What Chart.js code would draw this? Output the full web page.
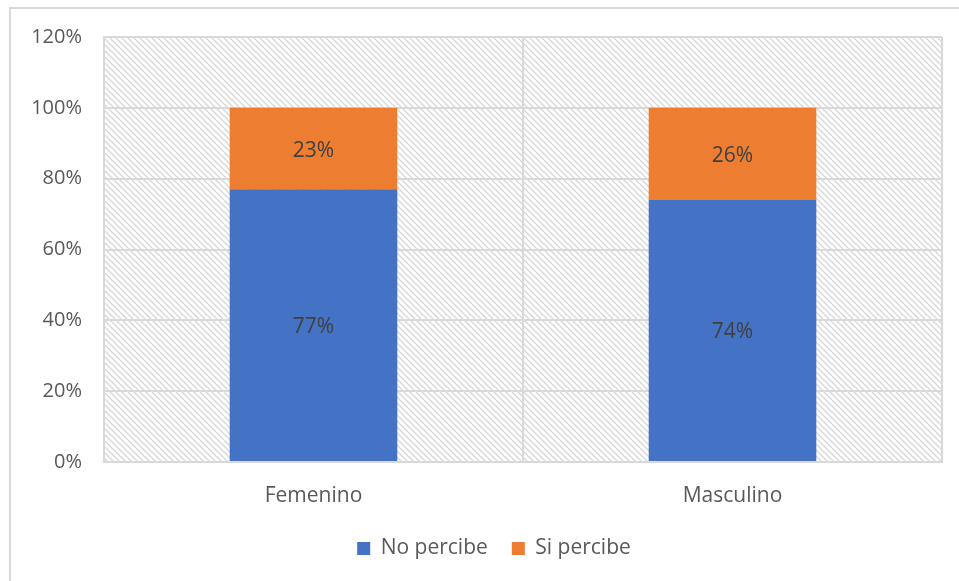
<!DOCTYPE html>
<html lang="es">
<head>
<meta charset="utf-8">
<title>Percepción por sexo</title>
<script src="https://cdn.jsdelivr.net/npm/chart.js@4"></script>
<style>
  html, body { margin: 0; padding: 0; background: #fff; overflow: hidden; }
  #wrap { position: relative; width: 959px; height: 581px; }
  #frame {
    position: absolute; left: 9px; top: 7px; width: 1000px; height: 700px;
    border: 2px solid #d9d9d9; box-sizing: border-box;
  }
  canvas { position: absolute; left: 0; top: 0; }
</style>
</head>
<body>
<div id="wrap">
  <div id="frame"></div>
  <canvas id="chart" width="959" height="581"></canvas>
</div>
<script>
const categorias = ["Femenino", "Masculino"];
const noPercibe = [77, 74];
const siPercibe = [23, 26];
const yTicks = [0, 20, 40, 60, 80, 100, 120];

const textColor = "#595959";
const gridColor = "#d9d9d9";
const fontFamily = "'Open Sans', 'Noto Sans', sans-serif";

// diagonal hatch for the plot background
function hatchPattern(ctx) {
  const size = 6;
  const tile = document.createElement("canvas");
  tile.width = size;
  tile.height = size;
  const t = tile.getContext("2d");
  t.strokeStyle = "#d6d6d6";
  t.lineWidth = 1.3;
  t.beginPath();
  t.moveTo(-1, -1);
  t.lineTo(size + 1, size + 1);
  t.moveTo(-1, size - 1);
  t.lineTo(1, size + 1);
  t.moveTo(size - 1, -1);
  t.lineTo(size + 1, 1);
  t.stroke();
  return ctx.createPattern(tile, "repeat");
}

const plotBackground = {
  id: "plotBackground",
  beforeDraw(chart) {
    const { ctx, chartArea: a } = chart;
    ctx.save();
    ctx.fillStyle = hatchPattern(ctx);
    ctx.fillRect(a.left, a.top, a.right - a.left, a.bottom - a.top);
    ctx.restore();
  }
};

// center the legend under the plot area rather than the whole canvas
const legendShift = {
  id: "legendShift",
  afterLayout(chart) {
    const dx = 23;
    chart.legend.left += dx;
    chart.legend.right += dx;
  }
};

// percentage written in the middle of each segment
const segmentLabels = {
  id: "segmentLabels",
  afterDatasetsDraw(chart) {
    const { ctx } = chart;
    ctx.save();
    ctx.font = "21px " + fontFamily;
    ctx.fillStyle = "#404040";
    ctx.textAlign = "center";
    ctx.textBaseline = "middle";
    chart.data.datasets.forEach((ds, i) => {
      chart.getDatasetMeta(i).data.forEach((bar, j) => {
        const p = bar.getCenterPoint();
        ctx.fillText(ds.data[j] + "%", p.x, p.y + 2);
      });
    });
    ctx.restore();
  }
};

new Chart(document.getElementById("chart").getContext("2d"), {
  type: "bar",
  data: {
    labels: categorias,
    datasets: [
      {
        label: "No percibe",
        data: noPercibe,
        backgroundColor: "#4472c4",
        categoryPercentage: 1,
        barPercentage: 0.4
      },
      {
        label: "Si percibe",
        data: siPercibe,
        backgroundColor: "#ed7d31",
        categoryPercentage: 1,
        barPercentage: 0.4
      }
    ]
  },
  options: {
    responsive: false,
    animation: false,
    layout: { padding: { top: 37, right: 17, bottom: 12, left: 0 } },
    plugins: {
      legend: {
        position: "bottom",
        labels: {
          color: textColor,
          font: { family: fontFamily, size: 21 },
          boxWidth: 13,
          boxHeight: 13,
          padding: 24
        }
      },
      tooltip: { enabled: false }
    },
    scales: {
      x: {
        stacked: true,
        grid: { color: gridColor, lineWidth: 2, drawTicks: false },
        border: { color: gridColor, width: 2 },
        ticks: {
          color: textColor,
          font: { family: fontFamily, size: 21 },
          padding: 21
        },
        afterFit(scale) { scale.height = 52; }
      },
      y: {
        stacked: true,
        min: 0,
        max: 120,
        afterBuildTicks(scale) { scale.ticks = yTicks.map(v => ({ value: v })); },
        grid: { color: gridColor, lineWidth: 2, drawTicks: false },
        border: { color: gridColor, width: 2 },
        ticks: {
          color: textColor,
          font: { family: fontFamily, size: 20 },
          padding: 22,
          callback: v => v + "%"
        },
        afterFit(scale) { scale.width = 104; }
      }
    }
  },
  plugins: [plotBackground, legendShift, segmentLabels]
});
</script>
</body>
</html>
